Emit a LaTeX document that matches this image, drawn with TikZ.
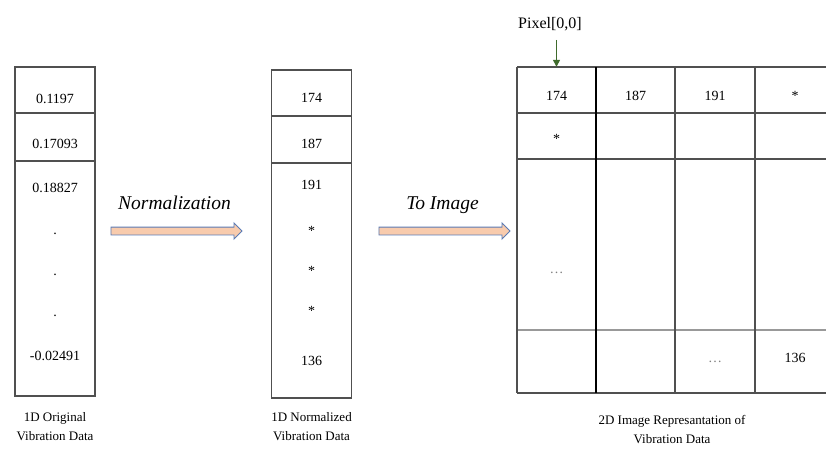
\documentclass[tikz,border=0pt]{standalone}
\usepackage{fontspec}
\setmainfont{Liberation Serif}
\usetikzlibrary{arrows.meta,positioning,shapes.arrows}
\definecolor{peach}{HTML}{F8CBAD}
\definecolor{steel}{HTML}{5B7BB4}
\definecolor{leaf}{HTML}{3F6B2C}
\definecolor{frame}{HTML}{505050}

\begin{document}
\begin{tikzpicture}[x=1pt,y=-1pt,
  every node/.style={font=\fontsize{14}{16}\selectfont,inner sep=0pt},
  cell/.style={draw=frame,line width=1.3pt,minimum width=80pt},
  caption/.style={align=center,font=\fontsize{13}{19}\selectfont},
  step label/.style={font=\fontsize{19.5}{22}\selectfont\itshape,text height=14pt,text depth=5pt},
  fat arrow/.style={single arrow,draw=steel,fill=peach,line width=0.9pt,
    minimum height=131pt,minimum width=15pt,single arrow head extend=4pt,
    inner ysep=3.5pt,text height=0pt,text depth=0pt},
  grid line/.style={draw=frame,line width=1.3pt}
]
\useasboundingbox (0,0) rectangle (826,450);

% 1D original data
\node[cell,minimum height=46pt] (o1) at (55,90) {};
\node[cell,minimum height=48pt,below=-1.3pt of o1] (o2) {};
\node[cell,minimum height=235pt,below=-1.3pt of o2] (o3) {};
\node at (55,99) {0.1197};
\node at (55,144) {0.17093};
\node (o3a) at (55,188) {0.18827};
\node at (55,234) {.};
\node at (55,275) {.};
\node at (55,316) {.};
\node at (55,356) {-0.02491};
\node[caption] (cap1) at (55,427) {1D Original\\Vibration Data};

% normalization step
\node[fat arrow] (norm) at (174.5,231) {};
\node[step label,above=12pt of norm] {Normalization};

% 1D normalized data
\node[cell,minimum height=46pt] (n1) at (311.5,93) {};
\node[cell,minimum height=47pt,below=-1.3pt of n1] (n2) {};
\node[cell,minimum height=235pt,below=-1.3pt of n2] (n3) {};
\node at (311.5,98) {174};
\node at (311.5,144) {187};
\node at (311.5,185) {191};
\node at (311.5,231) {*};
\node at (311.5,271) {*};
\node at (311.5,311) {*};
\node at (311.5,361) {136};
\node[caption] (cap2) at (311.5,427) {1D Normalized\\Vibration Data};

% to image step
\node[fat arrow] (toimg) at (442.5,231) {};
\node[step label,above=12pt of toimg] {To Image};

% 2D image grid
\foreach \y in {67,113,159,393} \draw[grid line] (517,\y) -- (826,\y);
\draw[grid line,draw=gray!80] (517,330) -- (826,330);
\foreach \x in {517,675,755} \draw[grid line] (\x,67) -- (\x,393);
\draw[grid line,draw=black,line width=1.7pt] (596,67) -- (596,393);
\node[minimum width=79pt,minimum height=46pt] (g11) at (556.5,90) {};
\node at (556.5,96) {174};
\node at (635.5,96) {187};
\node at (715,96) {191};
\node at (795,96) {*};
\node at (556.5,139) {*};
\node at (556.5,273) {\textcolor{gray}{\dots}};
\node at (715,362) {\textcolor{gray}{\dots}};
\node at (795,358) {136};
\node[caption] (cap3) at (672,430) {2D Image Represantation of\\Vibration Data};

% pixel marker
\node[font=\fontsize{16}{18}\selectfont] (pix) at (550,24) {Pixel[0,0]};
\draw[-{Triangle[length=7pt,width=7pt]},leaf,line width=1.3pt,shorten <=9pt]
  (pix.south -| g11) -- (g11.north);
\end{tikzpicture}
\end{document}
